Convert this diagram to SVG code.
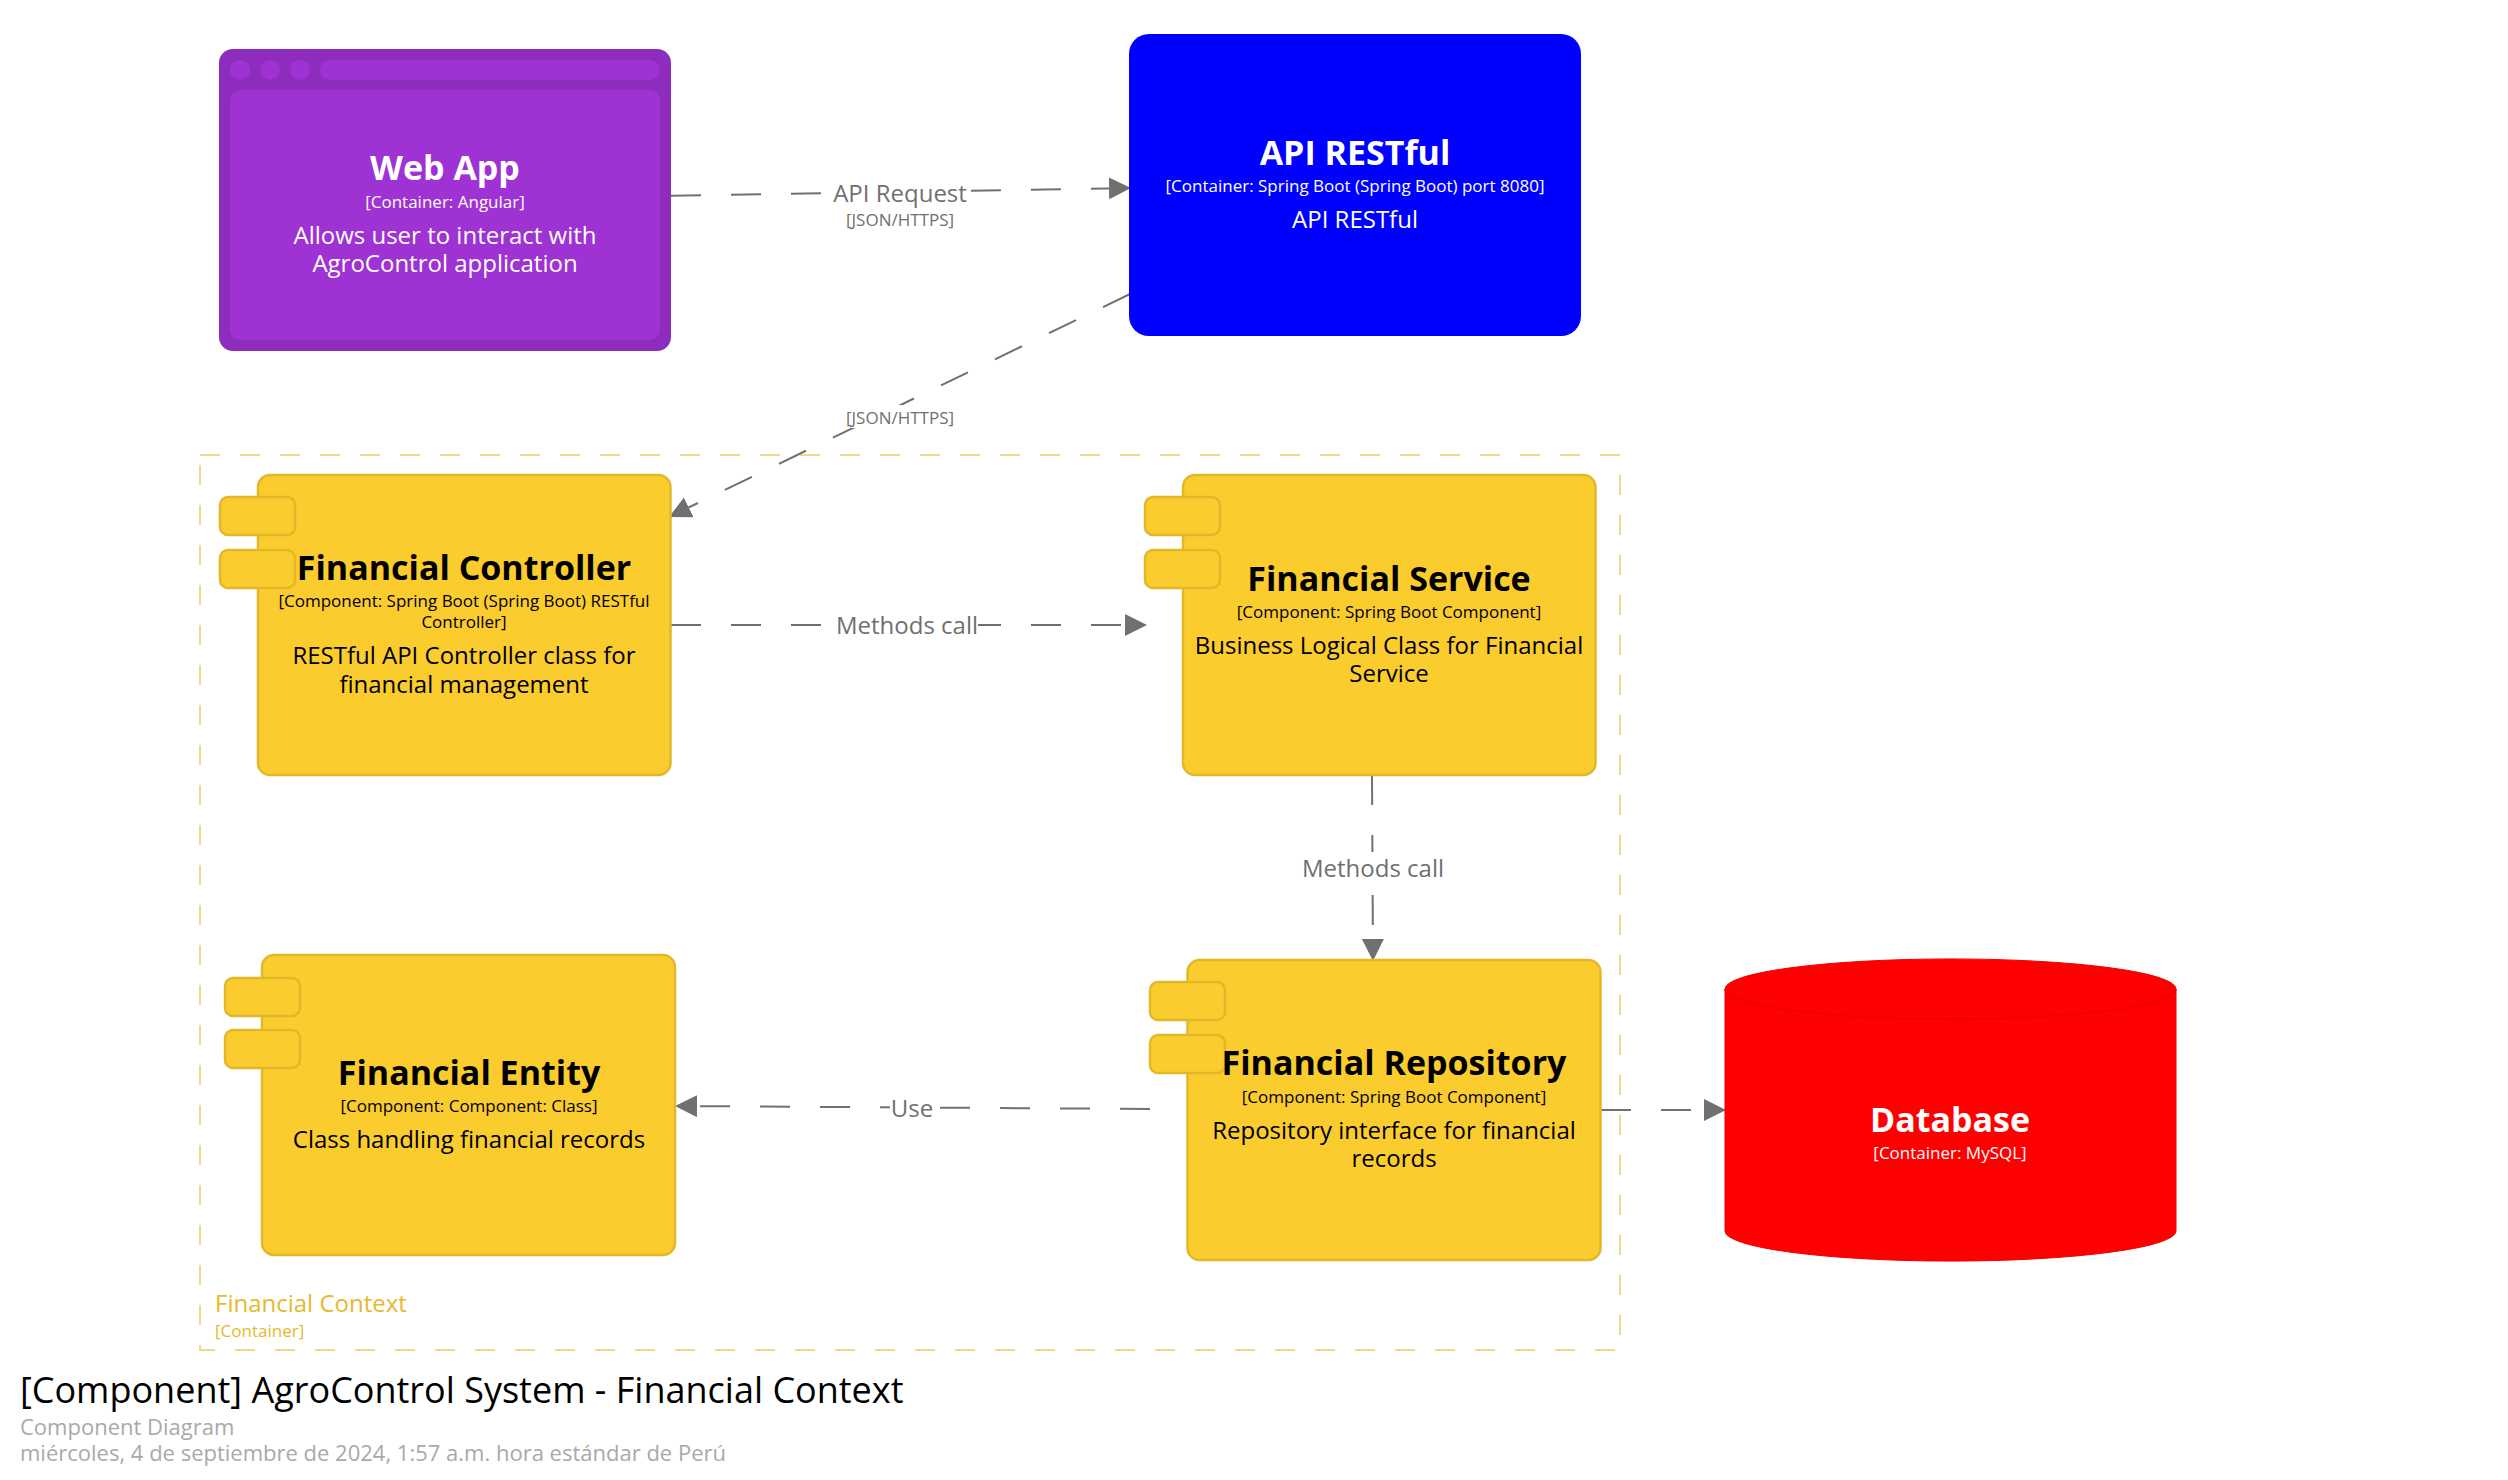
<svg xmlns="http://www.w3.org/2000/svg" width="2508" height="1480" viewBox="0 0 2508 1480">
<style>
text{font-family:"Open Sans","Noto Sans","Liberation Sans",sans-serif}
.c{text-anchor:middle}
.n{font-size:34px;font-weight:700}
.m{font-size:17px}
.d{font-size:24px}
.w{fill:#fff}
.k{fill:#000}
.comp{fill:#FACC2E;stroke:#E2B829;stroke-width:2.500}
.conn{fill:none;stroke:#707070;stroke-width:2;stroke-dasharray:30 30}
.mask{fill:#fff}
.ll{font-size:24px;fill:#707070}
.lm{font-size:17px;fill:#707070}
</style>
<defs>
<marker id="arrow" markerUnits="userSpaceOnUse" markerWidth="24" markerHeight="24" refX="22" refY="11" orient="auto"><path d="M0 0L22 11L0 22Z" fill="#707070"/></marker>
</defs>
<rect width="2508" height="1480" fill="#fff"/>
<g id="boundary">
<rect x="200" y="455" width="1420" height="895" fill="none" stroke="#F0D98C" stroke-width="2" stroke-dasharray="20 20"/>
<text x="215" y="1312" font-size="24" fill="#E5B92C">Financial Context</text>
<text x="215" y="1337" font-size="17" fill="#E5B92C">[Container]</text>
</g>
<g id="connectors">
<path class="conn" d="M671 195.700L1131 188" marker-end="url(#arrow)"/>
<rect class="mask" x="826" y="175" width="142" height="60"/>
<text class="ll c" x="900" y="202">API Request</text>
<text class="lm c" x="900" y="226">[JSON/HTTPS]</text>
<path class="conn" d="M1130 294L669 517" marker-end="url(#arrow)"/>
<rect class="mask" x="846" y="405" width="108" height="23"/>
<text class="lm c" x="900" y="424">[JSON/HTTPS]</text>
<path class="conn" d="M671 625L1147 625" marker-end="url(#arrow)"/>
<rect class="mask" x="830" y="610" width="148" height="30"/>
<text class="ll c" x="907" y="634">Methods call</text>
<path class="conn" d="M1372 775L1373 961" marker-end="url(#arrow)"/>
<rect class="mask" x="1300" y="852" width="146" height="40"/>
<text class="ll c" x="1373" y="877">Methods call</text>
<path class="conn" d="M1150 1109L675 1106" marker-end="url(#arrow)"/>
<rect class="mask" x="890" y="1092" width="48" height="30"/>
<text class="ll c" x="912" y="1117">Use</text>
<path class="conn" d="M1601 1110L1726 1110" marker-end="url(#arrow)"/>
</g>
<g id="web-app">
<rect x="219" y="49" width="452" height="302" rx="14" fill="#8E2DBD"/>
<rect x="230" y="90" width="430" height="250" rx="10" fill="#9F32D3"/>
<circle cx="240" cy="70" r="10" fill="#9F32D3"/>
<circle cx="270" cy="70" r="10" fill="#9F32D3"/>
<circle cx="300" cy="70" r="10" fill="#9F32D3"/>
<rect x="320" y="60" width="340" height="20" rx="10" fill="#9F32D3"/>
<text class="n c w" x="445" y="180">Web App</text>
<text class="m c w" x="445" y="208">[Container: Angular]</text>
<text class="d c w" x="445" y="244">Allows user to interact with</text>
<text class="d c w" x="445" y="272">AgroControl application</text>
</g>
<g id="api-restful">
<rect x="1129" y="34" width="452" height="302" rx="20" fill="#0000FF"/>
<text class="n c w" x="1355" y="165">API RESTful</text>
<text class="m c w" x="1355" y="192">[Container: Spring Boot (Spring Boot) port 8080]</text>
<text class="d c w" x="1355" y="228">API RESTful</text>
</g>
<g id="financial-controller">
<rect class="comp" x="258" y="475" width="412.500" height="300" rx="12"/>
<rect class="comp" x="220" y="497" width="75" height="38" rx="8"/>
<rect class="comp" x="220" y="550" width="75" height="38" rx="8"/>
<text class="n c k" x="464" y="580">Financial Controller</text>
<text class="m c k" x="464" y="607">[Component: Spring Boot (Spring Boot) RESTful</text>
<text class="m c k" x="464" y="628">Controller]</text>
<text class="d c k" x="464" y="664">RESTful API Controller class for</text>
<text class="d c k" x="464" y="693">financial management</text>
</g>
<g id="financial-service">
<rect class="comp" x="1183" y="475" width="412.500" height="300" rx="12"/>
<rect class="comp" x="1145" y="497" width="75" height="38" rx="8"/>
<rect class="comp" x="1145" y="550" width="75" height="38" rx="8"/>
<text class="n c k" x="1389" y="591">Financial Service</text>
<text class="m c k" x="1389" y="618">[Component: Spring Boot Component]</text>
<text class="d c k" x="1389" y="654">Business Logical Class for Financial</text>
<text class="d c k" x="1389" y="682">Service</text>
</g>
<g id="financial-entity">
<rect class="comp" x="262" y="955" width="413" height="300" rx="12"/>
<rect class="comp" x="225" y="978" width="75" height="38" rx="8"/>
<rect class="comp" x="225" y="1030" width="75" height="38" rx="8"/>
<text class="n c k" x="469" y="1085">Financial Entity</text>
<text class="m c k" x="469" y="1112">[Component: Component: Class]</text>
<text class="d c k" x="469" y="1148">Class handling financial records</text>
</g>
<g id="financial-repository">
<rect class="comp" x="1187.500" y="960" width="413" height="300" rx="12"/>
<rect class="comp" x="1150" y="982" width="75" height="38" rx="8"/>
<rect class="comp" x="1150" y="1035" width="75" height="38" rx="8"/>
<text class="n c k" x="1394" y="1075">Financial Repository</text>
<text class="m c k" x="1394" y="1103">[Component: Spring Boot Component]</text>
<text class="d c k" x="1394" y="1139">Repository interface for financial</text>
<text class="d c k" x="1394" y="1167">records</text>
</g>
<g id="database">
<path d="M1725 989A225 30 0 0 1 2176 989V1231A225 30 0 0 1 1725 1231Z" fill="#FF0000" stroke="#EE0000" stroke-width="1"/>
<path d="M1725 989A225 30 0 0 0 2176 989" fill="none" stroke="#EE0000" stroke-width="1.500"/>
<text class="n c w" x="1950" y="1132">Database</text>
<text class="m c w" x="1950" y="1159">[Container: MySQL]</text>
</g>
<g id="title">
<text x="20" y="1403" font-size="36" fill="#000">[Component] AgroControl System - Financial Context</text>
<text x="20" y="1435" font-size="22" fill="#A9A9A9">Component Diagram</text>
<text x="20" y="1461" font-size="22" fill="#A9A9A9">miércoles, 4 de septiembre de 2024, 1:57 a.m. hora estándar de Perú</text>
</g>
</svg>
